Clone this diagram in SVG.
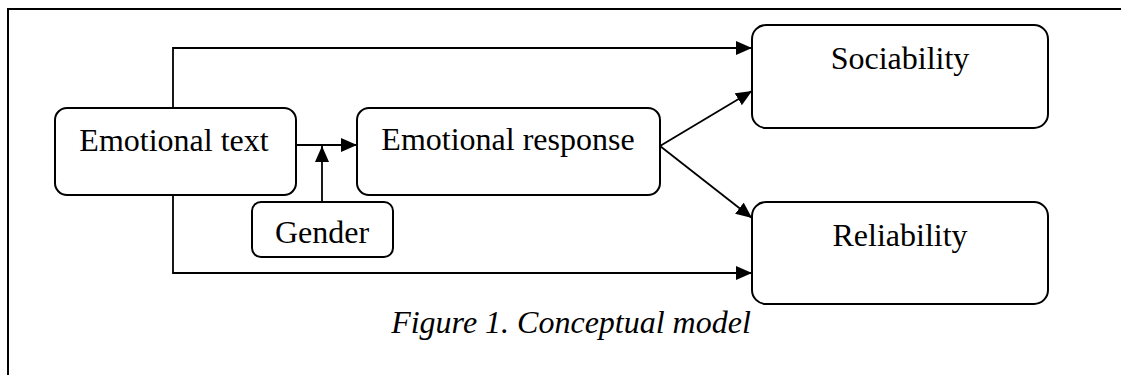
<svg xmlns="http://www.w3.org/2000/svg" width="1121" height="375" viewBox="0 0 1121 375">
  <style>
    .box { fill: #ffffff; stroke: #000000; stroke-width: 2; }
    .lbl { font-family: "Liberation Serif", "Times New Roman", serif; font-size: 32px; fill: #000000; text-anchor: middle; }
    .cap { font-family: "Liberation Serif", "Times New Roman", serif; font-size: 32px; font-style: italic; fill: #000000; text-anchor: middle; }
    .edge { fill: none; stroke: #000000; stroke-width: 1.8; }
    .frame { fill: none; stroke: #000000; stroke-width: 2; }
  </style>
  <defs>
    <marker id="arrow" viewBox="0 0 16 14" refX="16" refY="7" markerWidth="16" markerHeight="14" markerUnits="userSpaceOnUse" orient="auto">
      <path d="M0,0 L16,7 L0,14 Z" fill="#000000"/>
    </marker>
  </defs>

  <rect width="1121" height="375" fill="#ffffff"/>

  <!-- open frame: top and left edges only -->
  <path class="frame" d="M8,375 L8,9 L1121,9"/>

  <!-- connectors -->
  <g id="connectors">
    <path class="edge" d="M173,108 L173,48 L752,48" marker-end="url(#arrow)"/>
    <path class="edge" d="M173,195 L173,273 L752,273" marker-end="url(#arrow)"/>
    <path class="edge" d="M296,145 L357,145" marker-end="url(#arrow)"/>
    <path class="edge" d="M322,202 L322,146" marker-end="url(#arrow)"/>
    <path class="edge" d="M660,146 L752,91" marker-end="url(#arrow)"/>
    <path class="edge" d="M660,146 L752,218" marker-end="url(#arrow)"/>
  </g>

  <g id="node-emotional-text">
    <rect class="box" x="55" y="108" width="241" height="87" rx="12"/>
    <text class="lbl" x="174" y="151">Emotional text</text>
  </g>

  <g id="node-gender">
    <rect class="box" x="252" y="202" width="141" height="55" rx="9"/>
    <text class="lbl" x="322" y="243">Gender</text>
  </g>

  <g id="node-emotional-response">
    <rect class="box" x="357" y="108" width="303" height="87" rx="12"/>
    <text class="lbl" x="508" y="150">Emotional response</text>
  </g>

  <g id="node-sociability">
    <rect class="box" x="752" y="25" width="296" height="103" rx="14"/>
    <text class="lbl" x="900" y="69">Sociability</text>
  </g>

  <g id="node-reliability">
    <rect class="box" x="752" y="202" width="296" height="102" rx="14"/>
    <text class="lbl" x="900" y="246">Reliability</text>
  </g>

  <text class="cap" x="571" y="333">Figure 1. Conceptual model</text>
</svg>
